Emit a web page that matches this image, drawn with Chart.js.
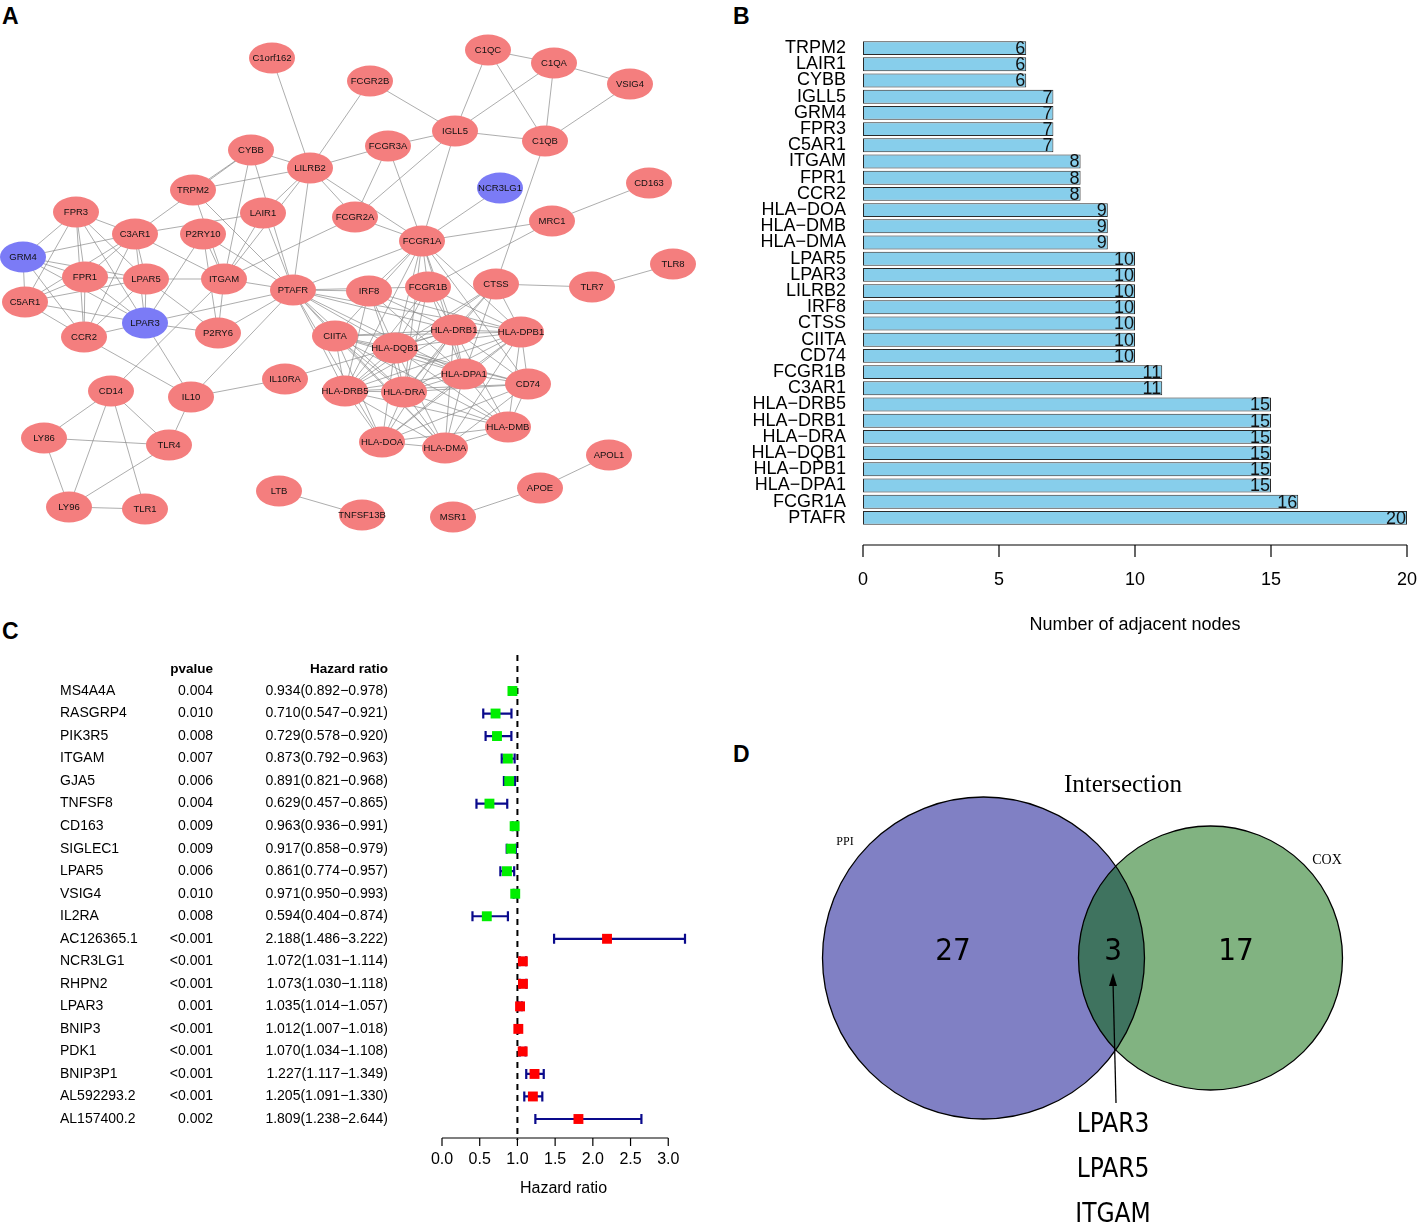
<!DOCTYPE html>
<html>
<head>
<meta charset="utf-8">
<script src="https://cdn.jsdelivr.net/npm/chart.js@4.4.7/dist/chart.umd.min.js"></script>
<style>
  body { margin: 0; background: #fff; width: 1417px; height: 1224px; position: relative; overflow: hidden; font-family: 'Liberation Sans', Arial, sans-serif; }
  .box { position: absolute; }
  .tag { position: absolute; font-weight: bold; font-size: 23px; color: #000; }
</style>
</head>
<body>
<div class="tag" style="left:2px;top:3px">A</div>
<div class="tag" style="left:733px;top:3px">B</div>
<div class="tag" style="left:2px;top:618px">C</div>
<div class="tag" style="left:733px;top:741px">D</div>

<div class="box" style="left:0;top:0"><canvas id="netz" width="700" height="540"></canvas></div>
<div class="box" style="left:700px;top:0"><canvas id="grad" width="717" height="650"></canvas></div>
<div class="box" style="left:0;top:620px"><canvas id="forest" width="700" height="604"></canvas></div>
<div class="box" style="left:720px;top:740px"><canvas id="venn" width="697" height="484"></canvas></div>

<script>
Chart.defaults.font.family = "'Liberation Sans', Arial, sans-serif";
Chart.defaults.animation = false;
Chart.defaults.responsive = false;
Chart.defaults.plugins.legend.display = false;
Chart.defaults.plugins.tooltip.enabled = false;

// ---------- A: PPI network ----------
const nodeNames = ['C1orf162','FCGR2B','C1QC','C1QA','VSIG4','IGLL5','C1QB','FCGR3A','CYBB','LILRB2',
  'NCR3LG1','CD163','TRPM2','FPR3','LAIR1','FCGR2A','MRC1','C3AR1','P2RY10','FCGR1A',
  'GRM4','FPR1','LPAR5','ITGAM','PTAFR','IRF8','FCGR1B','CTSS','TLR7','TLR8',
  'C5AR1','LPAR3','P2RY6','CCR2','CIITA','HLA-DRB1','HLA-DPB1','HLA-DQB1','HLA-DPA1','CD74',
  'HLA-DRB5','HLA-DRA','IL10RA','IL10','CD14','HLA-DMB','HLA-DOA','HLA-DMA','TLR4','LY86',
  'LY96','TLR1','LTB','TNFSF13B','MSR1','APOE','APOL1'];
const nodeX = [272,370,488,554,630,455,545,388,251,310,
  500,649,193,76,263,355,552,135,203,422,
  23,85,146,224,293,369,428,496,592,673,
  25,145,218,84,335,454,521,395,464,528,
  345,404,285,191,111,508,382,445,169,44,
  69,145,279,362,453,540,609];
const nodeY = [58,81,50,63,84,131,141,146,150,168,
  188,183,190,212,213,217,221,234,234,241,
  257,277,279,279,290,291,287,284,287,264,
  302,323,333,337,336,330,332,348,374,384,
  391,392,379,397,391,427,442,448,445,438,
  507,509,491,515,517,488,455];
const blueNodes = ['GRM4','LPAR3','NCR3LG1'];
const edges = [
  ['C1orf162','LILRB2'],['FCGR2B','IGLL5'],['FCGR2B','LILRB2'],
  ['C1QC','IGLL5'],['C1QC','C1QA'],['C1QC','C1QB'],['C1QA','IGLL5'],['C1QA','C1QB'],['C1QA','VSIG4'],
  ['VSIG4','C1QB'],['IGLL5','C1QB'],['IGLL5','FCGR3A'],['IGLL5','FCGR2A'],['IGLL5','FCGR1A'],
  ['FCGR3A','LILRB2'],['FCGR3A','FCGR2A'],['FCGR3A','FCGR1A'],['NCR3LG1','FCGR1A'],
  ['CD163','MRC1'],['MRC1','FCGR1A'],['MRC1','FCGR1B'],['C1QB','CTSS'],['CTSS','TLR7'],['TLR7','TLR8'],
  ['FCGR2A','FCGR1A'],['FCGR2A','LILRB2'],['FCGR2A','ITGAM'],
  ['LILRB2','FCGR1A'],['LILRB2','CYBB'],['LILRB2','TRPM2'],['LILRB2','LAIR1'],['LILRB2','ITGAM'],['LILRB2','PTAFR'],
  ['CYBB','TRPM2'],['CYBB','C3AR1'],['CYBB','ITGAM'],['CYBB','PTAFR'],
  ['TRPM2','ITGAM'],['TRPM2','PTAFR'],['LAIR1','C3AR1'],['LAIR1','ITGAM'],['LAIR1','PTAFR'],
  ['C3AR1','ITGAM'],['P2RY10','ITGAM'],['P2RY10','PTAFR'],['P2RY10','LPAR3'],['P2RY10','P2RY6'],
  ['ITGAM','PTAFR'],['ITGAM','CD14'],['ITGAM','P2RY6'],['ITGAM','LPAR5'],
  ['PTAFR','LPAR3'],['PTAFR','P2RY6'],['PTAFR','IL10'],['PTAFR','IRF8'],['PTAFR','FCGR1A'],['PTAFR','CIITA'],
  ['PTAFR','FCGR1B'],['PTAFR','HLA-DRB1'],['PTAFR','HLA-DQB1'],['PTAFR','HLA-DRA'],['PTAFR','HLA-DRB5'],
  ['PTAFR','HLA-DPA1'],['PTAFR','HLA-DPB1'],['PTAFR','HLA-DOA'],['PTAFR','HLA-DMA'],
  ['LPAR5','P2RY6'],['LPAR3','P2RY6'],['LPAR3','IL10'],['CCR2','IL10'],
  ['IL10','IL10RA'],['IL10','TLR4'],['IL10RA','HLA-DRB1'],
  ['CD14','LY86'],['CD14','LY96'],['CD14','TLR4'],['CD14','TLR1'],['LY86','TLR4'],['LY86','LY96'],
  ['LY96','TLR4'],['LY96','TLR1'],['LTB','TNFSF13B'],['MSR1','APOE'],['APOE','APOL1'],
  ['FCGR1A','IRF8'],['FCGR1A','FCGR1B'],['FCGR1A','CIITA'],['FCGR1A','CD74']
];
const leftGroup = ['FPR3','GRM4','FPR1','C3AR1','LPAR5','LPAR3','C5AR1','CCR2'];
const hlaGroup = ['CIITA','HLA-DRB1','HLA-DPB1','HLA-DQB1','HLA-DPA1','CD74','HLA-DRB5','HLA-DRA','HLA-DMB','HLA-DOA','HLA-DMA'];
const hlaCore = ['HLA-DRB1','HLA-DPB1','HLA-DQB1','HLA-DPA1','HLA-DRA','HLA-DRB5'];
const hlaHubs = ['FCGR1A','FCGR1B','IRF8','CTSS'];

const allEdges = edges.slice();
[leftGroup, hlaGroup].forEach(g => {
  for (let i = 0; i < g.length; i++)
    for (let j = i + 1; j < g.length; j++) allEdges.push([g[i], g[j]]);
});
hlaHubs.forEach(h => hlaCore.forEach(c => allEdges.push([h, c])));

const netPlugin = {
  id: 'netz',
  beforeDatasetsDraw(chart) {
    const { ctx, scales: { x, y } } = chart;
    const pos = n => { const i = nodeNames.indexOf(n); return [x.getPixelForValue(nodeX[i]), y.getPixelForValue(nodeY[i])]; };
    ctx.save();
    ctx.strokeStyle = '#8a8a8a';
    ctx.lineWidth = 0.7;
    allEdges.forEach(([a, b]) => {
      const p = pos(a), q = pos(b);
      ctx.beginPath(); ctx.moveTo(p[0], p[1]); ctx.lineTo(q[0], q[1]); ctx.stroke();
    });
    ctx.restore();
  },
  afterDatasetsDraw(chart) {
    const { ctx } = chart;
    const meta = chart.getDatasetMeta(0);
    ctx.save();
    ctx.textAlign = 'center';
    ctx.textBaseline = 'middle';
    ctx.font = "9.5px 'Liberation Sans', Arial, sans-serif";
    meta.data.forEach((pt, i) => {
      ctx.beginPath();
      ctx.ellipse(pt.x, pt.y, 23, 15.5, 0, 0, Math.PI * 2);
      ctx.fillStyle = blueNodes.includes(nodeNames[i]) ? '#7B7BF6' : '#F47E7E';
      ctx.fill();
      ctx.fillStyle = '#111';
      ctx.fillText(nodeNames[i], pt.x, pt.y + 0.5);
    });
    ctx.restore();
  }
};

new Chart(document.getElementById('netz'), {
  type: 'scatter',
  data: { datasets: [{ data: nodeNames.map((n, i) => ({ x: nodeX[i], y: nodeY[i] })), pointRadius: 0 }] },
  options: {
    layout: { padding: 0 },
    scales: {
      x: { display: false, min: 0, max: 700 },
      y: { display: false, min: 0, max: 540, reverse: true }
    }
  },
  plugins: [netPlugin]
});

// ---------- B: number of adjacent nodes ----------
const degGenes = ['TRPM2','LAIR1','CYBB','IGLL5','GRM4','FPR3','C5AR1','ITGAM','FPR1','CCR2',
  'HLA\u2212DOA','HLA\u2212DMB','HLA\u2212DMA','LPAR5','LPAR3','LILRB2','IRF8','CTSS','CIITA','CD74',
  'FCGR1B','C3AR1','HLA\u2212DRB5','HLA\u2212DRB1','HLA\u2212DRA','HLA\u2212DQB1','HLA\u2212DPB1','HLA\u2212DPA1','FCGR1A','PTAFR'];
const degCounts = [6,6,6,7,7,7,7,8,8,8,9,9,9,10,10,10,10,10,10,10,11,11,15,15,15,15,15,15,16,20];
const degTicks = [0,5,10,15,20];

const barLabels = {
  id: 'barLabels',
  afterDatasetsDraw(chart) {
    const { ctx } = chart;
    ctx.save();
    ctx.font = "18px 'Liberation Sans', Arial, sans-serif";
    ctx.fillStyle = '#111';
    ctx.textAlign = 'right';
    ctx.textBaseline = 'middle';
    chart.getDatasetMeta(0).data.forEach((el, i) => ctx.fillText(String(degCounts[i]), el.x - 1, el.y + 1));
    ctx.restore();
  }
};
const axisB = {
  id: 'axisB',
  afterDraw(chart) {
    const { ctx, chartArea, scales: { x } } = chart;
    const yl = chartArea.bottom + 19;
    ctx.save();
    ctx.strokeStyle = '#000'; ctx.lineWidth = 1.2;
    ctx.beginPath();
    ctx.moveTo(x.getPixelForValue(degTicks[0]), yl);
    ctx.lineTo(x.getPixelForValue(degTicks[degTicks.length - 1]), yl);
    degTicks.forEach(t => { const px = x.getPixelForValue(t); ctx.moveTo(px, yl); ctx.lineTo(px, yl + 12); });
    ctx.stroke();
    ctx.fillStyle = '#000';
    ctx.font = "18px 'Liberation Sans', Arial, sans-serif";
    ctx.textAlign = 'center'; ctx.textBaseline = 'middle';
    degTicks.forEach(t => ctx.fillText(String(t), x.getPixelForValue(t), yl + 35));
    ctx.fillText('Number of adjacent nodes', (chartArea.left + chartArea.right) / 2, yl + 80);
    ctx.restore();
  }
};

new Chart(document.getElementById('grad'), {
  type: 'bar',
  data: {
    labels: degGenes,
    datasets: [{
      data: degCounts, backgroundColor: '#87CEEB', borderColor: '#2a2a2a', borderWidth: 1,
      borderSkipped: false, barPercentage: 0.86, categoryPercentage: 1
    }]
  },
  options: {
    indexAxis: 'y',
    layout: { padding: { top: 40, bottom: 124, right: 10, left: 0 } },
    scales: {
      x: { display: false, min: 0, max: 20 },
      y: {
        afterFit(s) { s.width = 163; },
        grid: { display: false, drawTicks: false },
        border: { display: false },
        ticks: { autoSkip: false, color: '#000', font: { size: 18 }, padding: 17 }
      }
    }
  },
  plugins: [barLabels, axisB]
});

// ---------- C: univariate Cox forest plot ----------
const coxGenes = ['MS4A4A','RASGRP4','PIK3R5','ITGAM','GJA5','TNFSF8','CD163','SIGLEC1','LPAR5','VSIG4',
  'IL2RA','AC126365.1','NCR3LG1','RHPN2','LPAR3','BNIP3','PDK1','BNIP3P1','AL592293.2','AL157400.2'];
const coxP = ['0.004','0.010','0.008','0.007','0.006','0.004','0.009','0.009','0.006','0.010',
  '0.008','<0.001','<0.001','<0.001','0.001','<0.001','<0.001','<0.001','<0.001','0.002'];
const coxHR = [0.934,0.710,0.729,0.873,0.891,0.629,0.963,0.917,0.861,0.971,
  0.594,2.188,1.072,1.073,1.035,1.012,1.070,1.227,1.205,1.809];
const coxLow = [0.892,0.547,0.578,0.792,0.821,0.457,0.936,0.858,0.774,0.950,
  0.404,1.486,1.031,1.030,1.014,1.007,1.034,1.117,1.091,1.238];
const coxHigh = [0.978,0.921,0.920,0.963,0.968,0.865,0.991,0.979,0.957,0.993,
  0.874,3.222,1.114,1.118,1.057,1.018,1.108,1.349,1.330,2.644];
const hrTicks = [0, 0.5, 1, 1.5, 2, 2.5, 3];

const forestPlugin = {
  id: 'forest',
  beforeDatasetsDraw(chart) {
    const { ctx, chartArea, scales: { x } } = chart;
    const meta = chart.getDatasetMeta(0);
    ctx.save();
    // reference line at HR = 1
    ctx.strokeStyle = '#000'; ctx.lineWidth = 2; ctx.setLineDash([6, 5]);
    ctx.beginPath();
    ctx.moveTo(x.getPixelForValue(1), chartArea.top - 36);
    ctx.lineTo(x.getPixelForValue(1), chartArea.bottom + 21);
    ctx.stroke();
    ctx.setLineDash([]);
    // confidence intervals
    ctx.strokeStyle = '#0A0A8C'; ctx.lineWidth = 2.2;
    meta.data.forEach((el, i) => {
      const a = x.getPixelForValue(coxLow[i]), b = x.getPixelForValue(coxHigh[i]), yy = el.y;
      ctx.beginPath();
      ctx.moveTo(a, yy); ctx.lineTo(b, yy);
      ctx.moveTo(a, yy - 5); ctx.lineTo(a, yy + 5);
      ctx.moveTo(b, yy - 5); ctx.lineTo(b, yy + 5);
      ctx.stroke();
    });
    ctx.restore();
  },
  afterDraw(chart) {
    const { ctx, chartArea, scales: { x } } = chart;
    const meta = chart.getDatasetMeta(0);
    ctx.save();
    ctx.fillStyle = '#000';
    ctx.textBaseline = 'middle';
    ctx.font = "bold 13.5px 'Liberation Sans', Arial, sans-serif";
    ctx.textAlign = 'right';
    ctx.fillText('pvalue', 213, chartArea.top - 22);
    ctx.fillText('Hazard ratio', 388, chartArea.top - 22);
    ctx.font = "14px 'Liberation Sans', Arial, sans-serif";
    meta.data.forEach((el, i) => {
      ctx.textAlign = 'left';
      ctx.fillText(coxGenes[i], 60, el.y);
      ctx.textAlign = 'right';
      ctx.fillText(coxP[i], 213, el.y);
      ctx.fillText(coxHR[i].toFixed(3) + '(' + coxLow[i].toFixed(3) + '\u2212' + coxHigh[i].toFixed(3) + ')', 388, el.y);
    });
    // x axis
    const yl = chartArea.bottom + 19;
    ctx.strokeStyle = '#000'; ctx.lineWidth = 1.2;
    ctx.beginPath();
    ctx.moveTo(x.getPixelForValue(hrTicks[0]), yl);
    ctx.lineTo(x.getPixelForValue(hrTicks[hrTicks.length - 1]), yl);
    hrTicks.forEach(t => { const px = x.getPixelForValue(t); ctx.moveTo(px, yl); ctx.lineTo(px, yl + 8); });
    ctx.stroke();
    ctx.font = "16px 'Liberation Sans', Arial, sans-serif";
    ctx.textAlign = 'center';
    hrTicks.forEach(t => ctx.fillText(t.toFixed(1), x.getPixelForValue(t), yl + 22));
    ctx.fillText('Hazard ratio', (chartArea.left + chartArea.right) / 2, yl + 51);
    ctx.restore();
  }
};

new Chart(document.getElementById('forest'), {
  type: 'scatter',
  data: {
    datasets: [{
      data: coxGenes.map((g, i) => ({ x: coxHR[i], y: g })),
      pointStyle: 'rect', pointRadius: 7, pointBorderWidth: 0,
      pointBackgroundColor: coxHR.map(v => v < 1 ? '#00EE00' : '#FF0000')
    }]
  },
  options: {
    layout: { padding: { left: 442, right: 15, top: 71, bottom: 105 } },
    scales: {
      x: { display: false, min: 0, max: 3.222 },
      y: { type: 'category', labels: coxGenes, display: false, offset: false }
    }
  },
  plugins: [forestPlugin]
});

// ---------- D: Venn diagram ----------
const vennTitle = 'Intersection';
const vennSets = ['PPI', 'COX'];
const vennCounts = [27, 3, 17];
const vennShared = ['LPAR3', 'LPAR5', 'ITGAM'];
const vennGeom = {
  circles: [{ cx: 263.5, cy: 218, r: 161, fill: '#8080C4' }, { cx: 490.5, cy: 218, r: 132, fill: '#81B381' }],
  both: '#3F735F',
  setLabels: [[125, 102, 12], [607, 120, 14]],
  countPos: [[233, 212], [393, 212], [516, 212]],
  arrow: [396, 363, 393, 233],
  sharedY: [385, 430, 475]
};
const condensed = "'DejaVu Sans Condensed', 'Liberation Sans Narrow', 'Open Sans', sans-serif";

const vennPlugin = {
  id: 'venn',
  afterDraw(chart) {
    const { ctx, scales: { x, y } } = chart;
    const px = v => x.getPixelForValue(v), py = v => y.getPixelForValue(v);
    const circ = c => { ctx.beginPath(); ctx.arc(px(c.cx), py(c.cy), px(c.r) - px(0), 0, Math.PI * 2); };
    const [c1, c2] = vennGeom.circles;
    ctx.save();
    circ(c1); ctx.fillStyle = c1.fill; ctx.fill();
    circ(c2); ctx.fillStyle = c2.fill; ctx.fill();
    ctx.save(); circ(c1); ctx.clip(); circ(c2); ctx.fillStyle = vennGeom.both; ctx.fill(); ctx.restore();
    ctx.strokeStyle = '#000'; ctx.lineWidth = 1.3;
    circ(c1); ctx.stroke();
    circ(c2); ctx.stroke();

    ctx.fillStyle = '#000';
    ctx.textAlign = 'center'; ctx.textBaseline = 'middle';
    ctx.font = "25px 'Liberation Serif', 'DejaVu Serif', serif";
    ctx.fillText(vennTitle, px(403), py(45));
    vennSets.forEach((s, i) => {
      const [lx, ly, fs] = vennGeom.setLabels[i];
      ctx.font = fs + "px 'Liberation Serif', 'DejaVu Serif', serif";
      ctx.fillText(s, px(lx), py(ly));
    });
    ctx.font = '31px ' + condensed;
    vennCounts.forEach((n, i) => ctx.fillText(String(n), px(vennGeom.countPos[i][0]), py(vennGeom.countPos[i][1])));

    const [ax1, ay1, ax2, ay2] = vennGeom.arrow;
    ctx.lineWidth = 1.3;
    ctx.beginPath(); ctx.moveTo(px(ax1), py(ay1)); ctx.lineTo(px(ax2), py(ay2) + 8); ctx.stroke();
    ctx.beginPath();
    ctx.moveTo(px(ax2), py(ay2));
    ctx.lineTo(px(ax2) - 4, py(ay2) + 13);
    ctx.lineTo(px(ax2) + 4, py(ay2) + 13);
    ctx.closePath(); ctx.fill();

    ctx.font = '26px ' + condensed;
    vennShared.forEach((g, i) => ctx.fillText(g, px(ax2), py(vennGeom.sharedY[i])));
    ctx.restore();
  }
};

new Chart(document.getElementById('venn'), {
  type: 'scatter',
  data: { datasets: [] },
  options: {
    layout: { padding: 0 },
    scales: {
      x: { display: false, min: 0, max: 697 },
      y: { display: false, min: 0, max: 484, reverse: true }
    }
  },
  plugins: [vennPlugin]
});
</script>
</body>
</html>
